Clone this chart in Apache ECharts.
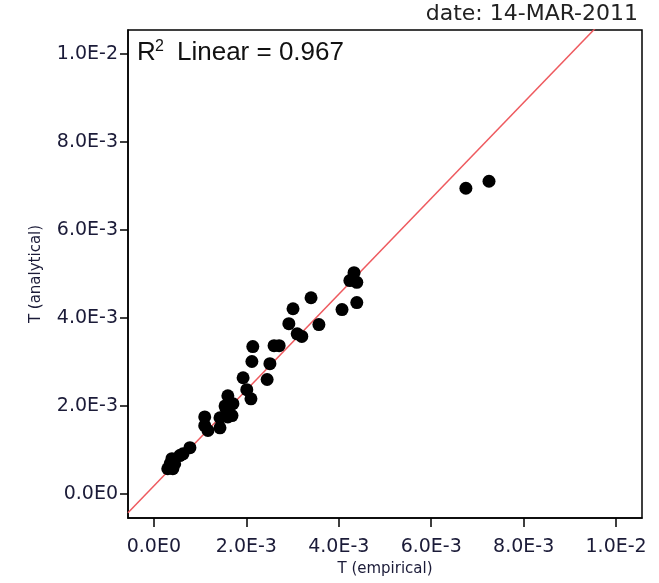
<!DOCTYPE html>
<html>
<head>
<meta charset="utf-8">
<script src="https://cdn.jsdelivr.net/npm/echarts@6/dist/echarts.min.js"></script>
<style>
  html, body { margin: 0; padding: 0; background: #fff; }
  #scatterChart { width: 659px; height: 583px; }
</style>
</head>
<body>
<div id="scatterChart"></div>
<script>
// empirical vs analytical T
const tEmpirical = [
  0.00675, 0.00725, 0.00433, 0.00424, 0.00439, 0.00340, 0.00439, 0.00301,
  0.00407, 0.00292, 0.00357, 0.00310, 0.00320, 0.00214, 0.00260, 0.00271,
  0.00212, 0.00251, 0.00193, 0.00245, 0.00201, 0.00210, 0.00160, 0.00171,
  0.00156, 0.00110, 0.00160, 0.00143, 0.00110, 0.00143, 0.00117, 0.00078,
  0.00063, 0.00056, 0.00039, 0.00035, 0.00045, 0.00030, 0.00041, 0.00154,
  0.00169
];
const tAnalytical = [
  0.00695, 0.00711, 0.00503, 0.00485, 0.00481, 0.00446, 0.00435, 0.00421,
  0.00419, 0.00387, 0.00385, 0.00364, 0.00358, 0.00335, 0.00337, 0.00337,
  0.00301, 0.00296, 0.00264, 0.00260, 0.00237, 0.00216, 0.00223, 0.00205,
  0.00194, 0.00175, 0.00175, 0.00173, 0.00155, 0.00150, 0.00144, 0.00105,
  0.00091, 0.00087, 0.00080, 0.00068, 0.00068, 0.00057, 0.00057, 0.00200,
  0.00178
];
const tickValues = [0, 0.002, 0.004, 0.006, 0.008, 0.010];

// fit line (R2 linear = 0.967)
const fitSlope = 1.09;
const fitIntercept = 0.00018;
const rSquared = '0.967';
const dateText = 'date: 14-MAR-2011';

const xMin = -0.00056, xMax = 0.01056;
const yMin = -0.00055, yMax = 0.01055;

const points = tEmpirical.map((x, i) => [x, tAnalytical[i]]);
const fitLine = [xMin, xMax].map(x => [x, fitSlope * x + fitIntercept]);

const fmt = v => {
  if (Math.abs(v) < 1e-12) return '0.0E0';
  return v.toExponential(1).replace('e', 'E').replace('+', '');
};

const labelColor = '#1b1b38';
const chart = echarts.init(document.getElementById('scatterChart'));
chart.setOption({
  animation: false,
  grid: {
    left: 128, right: 17, top: 30, bottom: 65,
    show: true, borderColor: '#000', borderWidth: 1.5
  },
  xAxis: {
    type: 'value', min: xMin, max: xMax,
    name: 'T (empirical)', nameLocation: 'middle', nameGap: 44,
    nameTextStyle: { fontFamily: 'DejaVu Sans', fontSize: 15, color: labelColor },
    splitLine: { show: false },
    axisLine: { show: true, onZero: false, lineStyle: { color: '#000', width: 1.5 } },
    axisTick: { show: true, length: 9, customValues: tickValues, lineStyle: { color: '#000', width: 1.5 } },
    axisLabel: {
      customValues: tickValues, formatter: fmt, margin: 20,
      fontFamily: 'DejaVu Sans', fontSize: 19, color: labelColor
    }
  },
  yAxis: {
    type: 'value', min: yMin, max: yMax,
    name: 'T (analytical)', nameLocation: 'middle', nameGap: 84,
    nameTextStyle: { fontFamily: 'DejaVu Sans', fontSize: 15, color: labelColor },
    splitLine: { show: false },
    axisLine: { show: true, onZero: false, lineStyle: { color: '#000', width: 1.5 } },
    axisTick: { show: true, length: 8, customValues: tickValues, lineStyle: { color: '#000', width: 1.5 } },
    axisLabel: {
      customValues: tickValues, formatter: fmt, margin: 10,
      fontFamily: 'DejaVu Sans', fontSize: 19, color: labelColor
    }
  },
  graphic: [
    {
      type: 'text', right: 21, top: 3,
      style: { text: dateText, font: '22px "DejaVu Sans"', fill: '#222' }
    },
    {
      type: 'text', left: 137, top: 40,
      style: { text: 'R', font: '26px "Liberation Sans"', fill: '#111' }
    },
    {
      type: 'text', left: 155, top: 39,
      style: { text: '2', font: '16px "Liberation Sans"', fill: '#111' }
    },
    {
      type: 'text', left: 177, top: 40,
      style: { text: 'Linear = ' + rSquared, font: '26px "Liberation Sans"', fill: '#111' }
    }
  ],
  series: [
    {
      type: 'line', data: fitLine, showSymbol: false, clip: true,
      lineStyle: { color: '#ee5a5f', width: 1.5 }, z: 1
    },
    {
      type: 'scatter', data: points, symbolSize: 13,
      itemStyle: { color: '#000', opacity: 1 }, z: 2
    }
  ]
});
</script>
</body>
</html>
